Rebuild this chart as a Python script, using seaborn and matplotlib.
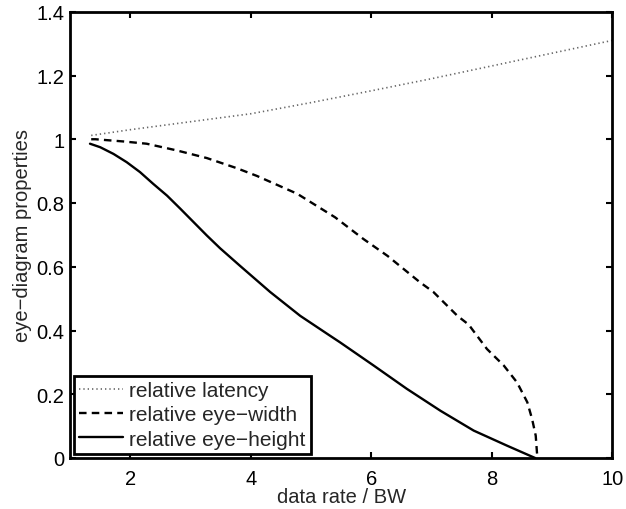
import numpy as np
import pandas as pd
import seaborn as sns
import matplotlib.pyplot as plt

# ---------------------------------------------------------
# DATA
# ---------------------------------------------------------
latency_x = [1.35, 2, 3, 4, 5, 6, 7, 8, 9, 10]
latency_y = [1.012, 1.03, 1.055, 1.08, 1.115, 1.152, 1.19, 1.23, 1.27, 1.31]

width_x = [1.35, 1.42, 1.89, 2.27, 2.77, 3.27, 3.77, 4.1, 4.77, 5.4, 5.87,
           6.27, 6.81, 7.03, 7.43, 7.62, 7.67, 7.92, 8.2, 8.42, 8.59, 8.67,
           8.73, 8.75, 8.76]
width_y = [1.0, 1.0, 0.993, 0.986, 0.965, 0.941, 0.909, 0.885, 0.829, 0.755,
           0.687, 0.634, 0.551, 0.521, 0.446, 0.418, 0.405, 0.342, 0.29,
           0.237, 0.175, 0.122, 0.07, 0.018, 0.0]

height_x = [1.33, 1.5, 1.72, 1.94, 2.16, 2.38, 2.61, 2.83, 3.05, 3.27, 3.49,
            3.82, 4.32, 4.82, 5.32, 5.48, 6.04, 6.59, 7.15, 7.70, 8.25, 8.72]
height_y = [0.986, 0.975, 0.954, 0.928, 0.897, 0.86, 0.823, 0.782, 0.740,
            0.698, 0.658, 0.603, 0.521, 0.446, 0.383, 0.363, 0.29, 0.217,
            0.148, 0.086, 0.039, 0.0]

labels = ['relative latency', 'relative eye\u2212width', 'relative eye\u2212height']

# ---------------------------------------------------------
# STYLE
# ---------------------------------------------------------
sns.set_style("ticks")
plt.rcParams['font.family'] = ['Liberation Sans', 'DejaVu Sans']
plt.rcParams['xtick.direction'] = 'in'
plt.rcParams['ytick.direction'] = 'in'

fig = plt.figure(figsize=(6.26, 5.10), dpi=100)
ax = fig.add_axes([0.112, 0.1, 0.866, 0.875])

sns.lineplot(x=latency_x, y=latency_y, ax=ax, color='#666666',
             linestyle=(0, (0.8, 1.8)), linewidth=1.2, label=labels[0])
sns.lineplot(x=width_x, y=width_y, ax=ax, color='black',
             linestyle=(0, (3.2, 2.2)), linewidth=1.7, label=labels[1])
sns.lineplot(x=height_x, y=height_y, ax=ax, color='black',
             linestyle='-', linewidth=1.7, label=labels[2])

ax.set_xlim(1, 10)
ax.set_ylim(0, 1.4)
ax.set_xticks([2, 4, 6, 8, 10])
ax.set_yticks([0, 0.2, 0.4, 0.6, 0.8, 1, 1.2, 1.4])
ax.set_yticklabels(['0', '0.2', '0.4', '0.6', '0.8', '1', '1.2', '1.4'])
ax.tick_params(axis='both', which='both', top=True, right=True, length=4,
               width=1.5, labelsize=14.5, colors='black')
ax.tick_params(axis='x', pad=8)
ax.tick_params(axis='y', pad=4)
for s in ax.spines.values():
    s.set_linewidth(2)
    s.set_color('black')

ax.set_xlabel('data rate / BW', fontsize=14.5, labelpad=-1)
ax.set_ylabel('eye\u2212diagram properties', fontsize=14.5, labelpad=3)

leg = ax.legend(loc='lower left', fontsize=15, fancybox=False, framealpha=1,
                edgecolor='black', borderaxespad=0.2, handlelength=2.1,
                handletextpad=0.3, borderpad=0.25, labelspacing=0.25)
leg.get_frame().set_linewidth(2)

fig.savefig('out.png', dpi=100)
